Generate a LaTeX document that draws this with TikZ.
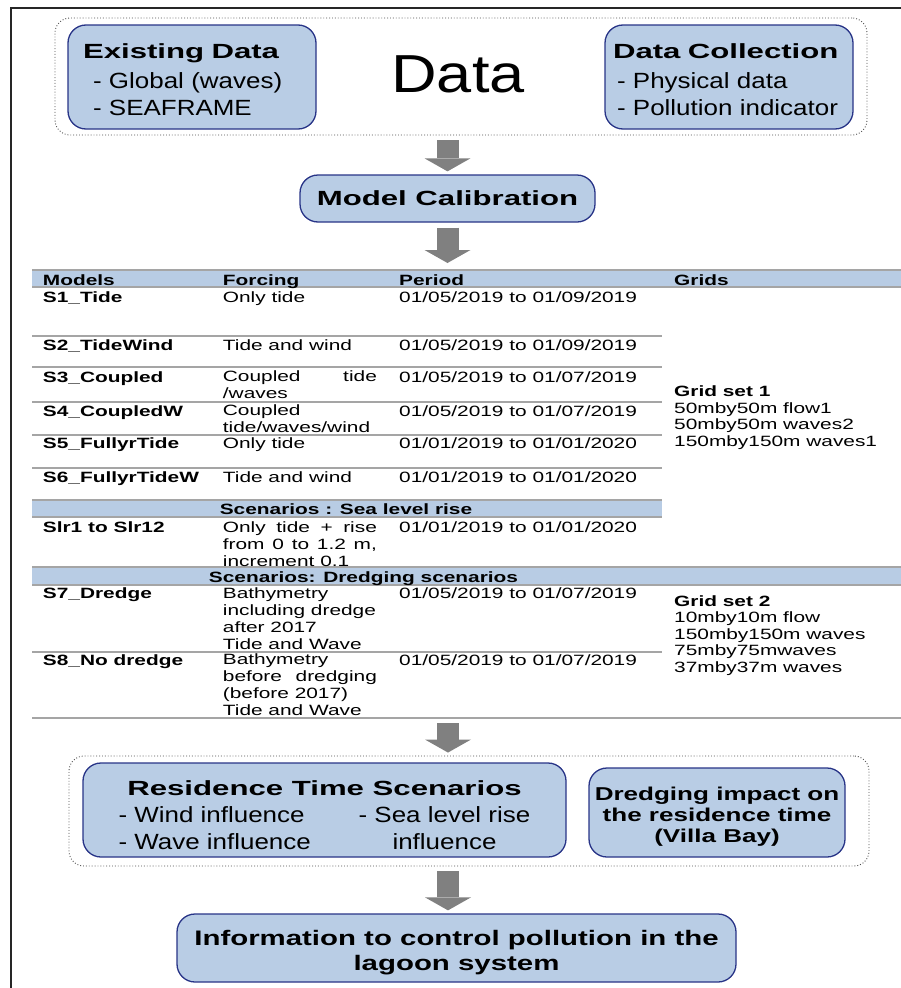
\documentclass[tikz,border=0pt]{standalone}
\usepackage{fontspec}
\setmainfont{Liberation Sans}
\newfontfamily\titelschrift[FakeStretch=1.52]{Liberation Sans}
\newfontfamily\tabschrift[FakeStretch=1.4]{Liberation Sans}
\newfontfamily\listschrift[FakeStretch=1.18]{Liberation Sans}
\usetikzlibrary{arrows.meta}

\definecolor{kastenblau}{RGB}{185,205,229}
\definecolor{kastenrand}{RGB}{40,52,135}
\definecolor{bandblau}{RGB}{184,204,228}
\definecolor{liniengrau}{RGB}{165,165,165}
\definecolor{pfeilgrau}{RGB}{128,128,128}

\begin{document}
\begin{tikzpicture}[x=1pt, y=-1pt, >=stealth,
    % Stil für die blauen Kästen
        kasten/.style={rectangle, rounded corners=18pt, draw=kastenrand, line width=1.3pt, fill=kastenblau, inner sep=0pt, align=center},
    % Stil für die gepunkteten Gruppen
        gruppe/.style={rectangle, rounded corners=15pt, draw=black!70, dotted, line width=0.9pt, inner sep=0pt},
    % Stil für die grauen Blockpfeile
        pfeil/.style={draw=pfeilgrau, line width=22pt, -{Triangle[length=13pt, width=46pt, line width=0pt]}, shorten <=5pt, shorten >=3pt},
    % Stile für die Tabelle (Grundlinie = letzte Zeile)
        zelle/.style={anchor=base west, inner sep=0pt, align=left, font=\tabschrift\fontsize{14.9}{17}\selectfont},
        kopf/.style={zelle, font=\tabschrift\bfseries\fontsize{14.9}{17}\selectfont},
        trennlinie/.style={draw=liniengrau, line width=1.2pt}]

        \useasboundingbox (0,0) rectangle (901,988);
        \draw[line width=1.4pt, black!85] (11,988) -- (11,8) -- (901,8);

        % Daten
        \node[gruppe, minimum width=812, minimum height=117] (datagrp) at (461,76.5) {};
        \node[kasten, minimum width=248, minimum height=104, text width=218, align=left, text height=16pt, text depth=54pt,
            font=\listschrift\fontsize{22}{27}\selectfont] (existing) at (192,77)
            {{\titelschrift\bfseries\fontsize{20.5}{24}\selectfont Existing Data}\\[3pt]
             \hspace*{10pt}- Global (waves)\\ \hspace*{10pt}- SEAFRAME};
        \node[kasten, minimum width=248, minimum height=104, text width=232, align=left, text height=16pt, text depth=54pt,
            font=\listschrift\fontsize{22}{27}\selectfont] (collection) at (729,77)
            {{\titelschrift\bfseries\fontsize{20.5}{24}\selectfont Data Collection}\\[3pt]
             \hspace*{4pt}- Physical data\\ \hspace*{4pt}- Pollution indicator};
        \node[anchor=base, inner sep=0pt, font=\listschrift\fontsize{53.5}{60}\selectfont] (datatitel) at (458,92) {Data};

        % Kalibrierung
        \node[kasten, minimum width=295, minimum height=47, font=\titelschrift\bfseries\fontsize{20.5}{24}\selectfont] (kalibrierung) at (447.5,198.5) {Model Calibration};
        \coordinate (tabelleoben) at (447.5,266);
        \coordinate (tabelleunten) at (448,718);

        \draw[pfeil] (datagrp.south -| kalibrierung.north) -- (kalibrierung.north);
        \draw[pfeil] (kalibrierung.south) -- (tabelleoben);

        % Tabelle: Bänder und Linien
        \fill[bandblau] (32,270) rectangle (901,287);
        \fill[bandblau] (32,500) rectangle (662,517);
        \fill[bandblau] (32,567) rectangle (901,585);
        \draw[trennlinie] (32,270) -- (901,270) (32,287) -- (901,287);
        \draw[trennlinie] (32,336) -- (662,336) (32,367) -- (662,367) (32,402) -- (662,402)
            (32,435) -- (662,435) (32,468) -- (662,468);
        \draw[trennlinie] (32,500) -- (662,500) (32,517) -- (662,517);
        \draw[trennlinie] (32,567) -- (901,567) (32,585) -- (901,585);
        \draw[trennlinie] (32,652) -- (662,652) (32,718) -- (901,718);

        % Tabelle: Kopfzeile
        \node[kopf] (hmodels) at (42.7,285) {Models};
        \node[kopf] (hforcing) at (222.7,285) {Forcing};
        \node[kopf] (hperiod) at (399,285) {Period};
        \node[kopf] (hgrids) at (674,285) {Grids};

        % Tabelle: Modelle
        \node[kopf] (m1) at (42.7,302) {S1\_Tide};
        \node[zelle] (f1) at (222.7,302) {Only tide};
        \node[zelle] (p1) at (399,302) {01/05/2019 to 01/09/2019};
        \node[kopf] (m2) at (42.7,350) {S2\_TideWind};
        \node[zelle] (f2) at (222.7,350) {Tide and wind};
        \node[zelle] (p2) at (399,350) {01/05/2019 to 01/09/2019};
        \node[kopf] (m3) at (42.7,382) {S3\_Coupled};
        \node[zelle] (f3) at (222.7,398) {\makebox[154pt][s]{Coupled tide}\\/waves};
        \node[zelle] (p3) at (399,382) {01/05/2019 to 01/07/2019};
        \node[kopf] (m4) at (42.7,416) {S4\_CoupledW};
        \node[zelle] (f4) at (222.7,432) {Coupled\\tide/waves/wind};
        \node[zelle] (p4) at (399,416) {01/05/2019 to 01/07/2019};
        \node[kopf] (m5) at (42.7,448) {S5\_FullyrTide};
        \node[zelle] (f5) at (222.7,448) {Only tide};
        \node[zelle] (p5) at (399,448) {01/01/2019 to 01/01/2020};
        \node[kopf] (m6) at (42.7,482) {S6\_FullyrTideW};
        \node[zelle] (f6) at (222.7,482) {Tide and wind};
        \node[zelle] (p6) at (399,482) {01/01/2019 to 01/01/2020};

        % Szenarien Meeresspiegel
        \node[kopf, anchor=base] (seaband) at (346,514) {Scenarios : Sea level rise};
        \node[kopf] (mslr) at (42.7,532) {Slr1 to Slr12};
        \node[zelle] (fslr) at (222.7,566) {\makebox[154pt][s]{Only tide + rise}\\\makebox[154pt][s]{from 0 to 1.2 m,}\\increment 0.1};
        \node[zelle] (pslr) at (399,532) {01/01/2019 to 01/01/2020};

        % Szenarien Baggerung
        \node[kopf, anchor=base] (dredgeband) at (363.5,582) {Scenarios: Dredging scenarios};
        \node[kopf] (m7) at (42.7,598) {S7\_Dredge};
        \node[zelle] (f7) at (222.7,649) {Bathymetry\\including dredge\\after 2017\\Tide and Wave};
        \node[zelle] (p7) at (399,598) {01/05/2019 to 01/07/2019};
        \node[kopf] (m8) at (42.7,665) {S8\_No dredge};
        \node[zelle] (f8) at (222.7,715) {Bathymetry\\\makebox[154pt][s]{before dredging}\\(before 2017)\\Tide and Wave};
        \node[zelle] (p8) at (399,665) {01/05/2019 to 01/07/2019};

        % Gitter
        \node[zelle, font=\tabschrift\fontsize{14.9}{16.4}\selectfont] (grid1) at (674,446) {\textbf{Grid set 1}\\50mby50m flow1\\50mby50m waves2\\150mby150m waves1};
        \node[zelle, font=\tabschrift\fontsize{14.9}{16.5}\selectfont] (grid2) at (674,672) {\textbf{Grid set 2}\\10mby10m flow\\150mby150m waves\\75mby75mwaves\\37mby37m waves};

        % Verweilzeit
        \node[gruppe, minimum width=800, minimum height=110] (resgrp) at (469,811) {};
        \node[kasten, minimum width=483, minimum height=94, text height=80pt, text depth=2pt,
            font=\listschrift\fontsize{22}{27}\selectfont] (residence) at (324.5,810)
            {{\titelschrift\bfseries\fontsize{20.5}{24}\selectfont Residence Time Scenarios}\\
             \makebox[240pt][l]{- Wind influence}\makebox[172pt][c]{- Sea level rise}\\
             \makebox[240pt][l]{- Wave influence}\makebox[172pt][c]{influence}};
        \node[kasten, minimum width=256, minimum height=89, text height=61pt, text depth=2pt,
            font=\tabschrift\bfseries\fontsize{18.6}{21}\selectfont] (dredging) at (717,812.5)
            {Dredging impact on\\the residence time\\(Villa Bay)};

        % Ergebnis
        \node[kasten, minimum width=559, minimum height=68, text height=46pt, text depth=2pt,
            font=\tabschrift\bfseries\fontsize{21}{25}\selectfont] (info) at (456.5,948)
            {Information to control pollution in the\\lagoon system};

        \draw[pfeil] (tabelleunten) -- (tabelleunten |- resgrp.north);
        \draw[pfeil] (resgrp.south -| tabelleunten) -- (info.north -| tabelleunten);
    \end{tikzpicture}
\end{document}
